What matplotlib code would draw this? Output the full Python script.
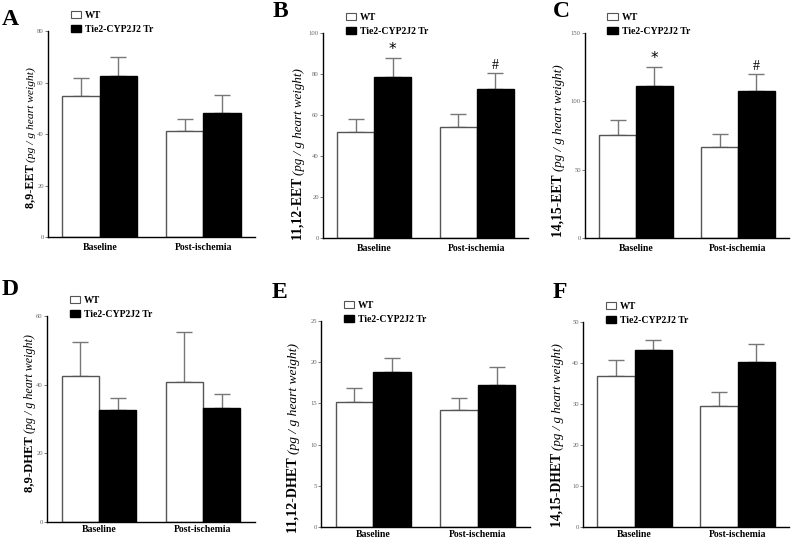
import numpy as np
import matplotlib

matplotlib.use("Agg")
import matplotlib.pyplot as plt
from matplotlib.patches import Patch

plt.rcParams["font.family"] = ["Liberation Serif", "DejaVu Serif"]

# Data: one entry per panel, [Baseline, Post-ischemia]
panel_letters = ["A", "B", "C", "D", "E", "F"]
analytes = ["8,9-EET", "11,12-EET", "14,15-EET", "8,9-DHET", "11,12-DHET", "14,15-DHET"]
groups = ["Baseline", "Post-ischemia"]
series = ["WT", "Tie2-CYP2J2 Tr"]

wt_mean = [[54.7, 41.0], [51.5, 54.1], [75.7, 66.3], [42.6, 40.8], [15.2, 14.2], [36.9, 29.4]]
wt_err = [[7.0, 4.8], [6.5, 6.3], [11.0, 9.7], [9.8, 14.5], [1.7, 1.5], [3.9, 3.5]]
tg_mean = [[62.4, 48.1], [78.5, 72.8], [111.2, 107.3], [32.5, 33.1], [18.8, 17.2], [43.1, 40.3]]
tg_err = [[7.5, 6.9], [9.1, 7.8], [13.8, 12.4], [3.6, 4.1], [1.65, 2.2], [2.5, 4.3]]
tg_marks = [["", ""], ["*", "#"], ["*", "#"], ["", ""], ["", ""], ["", ""]]
y_max = [80, 100, 150, 60, 25, 50]
y_step = [20, 20, 50, 20, 5, 10]

# layout in figure pixels: left, top, right, bottom of each axes
W, H = 791, 541
boxes = [(48, 31, 255, 237), (323, 33, 528, 238), (585, 33, 789, 238),
         (47, 316, 255, 522), (321, 321, 530, 527), (583, 322, 789, 527)]
letter_xy = [(2, 25), (273, 17), (553, 17), (2, 295), (272, 298), (553, 298)]
# y label: centre x and lower end (px), font size per panel
label_x = [30, 298, 558, 29, 293, 557]
label_bottom = [208, 240, 237, 492, 533, 527]
label_size = [8.7, 9.9, 9.8, 9.1, 10.2, 9.9]
x_pad = [4, 4, 4, 2, 2, 2]

fig = plt.figure(figsize=(W / 100, H / 100), dpi=100)
renderer = fig.canvas.get_renderer()

x = np.arange(len(groups))
bw = 0.36
err_color = "#777777"

for i in range(6):
    l, t, r, b = boxes[i]
    ax = fig.add_axes([l / W, 1 - b / H, (r - l) / W, (b - t) / H])

    ax.bar(x - bw / 2, wt_mean[i], bw, color="white", edgecolor="#555555",
           linewidth=1, label=series[0], zorder=2)
    ax.bar(x + bw / 2, tg_mean[i], bw, color="black", edgecolor="black",
           linewidth=1, label=series[1], zorder=2)
    ax.errorbar(x - bw / 2, wt_mean[i], yerr=[np.zeros(2), wt_err[i]], fmt="none",
                ecolor=err_color, elinewidth=1, capsize=6, capthick=1, zorder=1)
    ax.errorbar(x + bw / 2, tg_mean[i], yerr=[np.zeros(2), tg_err[i]], fmt="none",
                ecolor=err_color, elinewidth=1, capsize=6, capthick=1, zorder=1)

    for j, m in enumerate(tg_marks[i]):
        if m:
            top = tg_mean[i][j] + tg_err[i][j]
            ax.text(x[j] + bw / 2, top + 0.005 * y_max[i], m, ha="center", va="bottom",
                    fontsize=11 if m == "*" else 10, family="DejaVu Sans" if m == "*" else None)

    ax.set_xlim(-0.5, 1.5)
    ax.set_ylim(0, y_max[i])
    ax.set_yticks(np.arange(0, y_max[i] + 0.1, y_step[i]))
    ax.set_xticks(x)
    ax.set_xticklabels(groups, fontsize=7, fontweight="bold")
    ax.tick_params(axis="x", length=0, pad=x_pad[i])
    ax.tick_params(axis="y", length=2, width=0.6, labelsize=4.8, colors="#666666", pad=1)
    for s in ["top", "right"]:
        ax.spines[s].set_visible(False)
    ax.spines["left"].set_linewidth(1)
    ax.spines["bottom"].set_linewidth(1)

    # y label: bold analyte then italic unit, stacked along the axis
    bold = fig.text(label_x[i] / W, 1 - label_bottom[i] / H, analytes[i] + " ",
                    rotation=90, ha="center", va="bottom",
                    fontsize=label_size[i], fontweight="bold")
    bb = bold.get_window_extent(renderer)
    fig.text(label_x[i] / W + 0.001, bb.y1 / H, "(pg / g heart weight)",
             rotation=90, ha="center", va="bottom",
             fontsize=label_size[i] * 0.95, fontstyle="italic")

    handles = [Patch(facecolor="white", edgecolor="#555555", linewidth=0.8),
               Patch(facecolor="black", edgecolor="black")]
    ax.legend(handles, series, loc="lower left", bbox_to_anchor=(0.11, 0.985),
              frameon=False, prop={"weight": "bold", "size": 7},
              handlelength=1.05, handleheight=0.8, handletextpad=0.4,
              labelspacing=0.5, borderpad=0, borderaxespad=0)

    lx, ly = letter_xy[i]
    fig.text(lx / W, 1 - ly / H, panel_letters[i], fontsize=17, fontweight="bold",
             ha="left", va="baseline")

fig.savefig("out.png", dpi=100)
